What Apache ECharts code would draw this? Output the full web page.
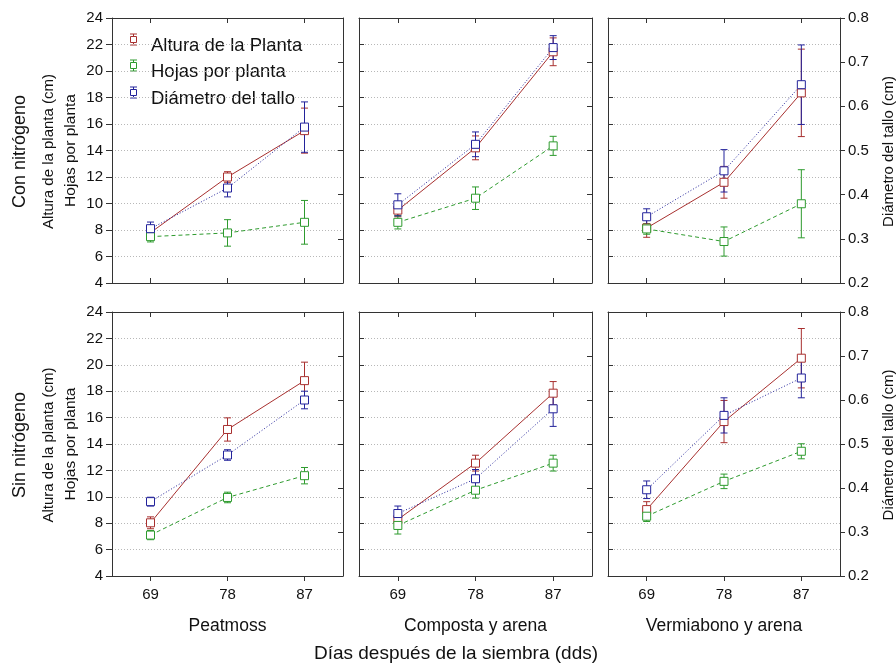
<!DOCTYPE html>
<html>
<head>
<meta charset="utf-8">
<script src="https://cdn.jsdelivr.net/npm/echarts@6/dist/echarts.min.js"></script>
<style>html,body{margin:0;padding:0;background:#fff}#c{width:896px;height:663px}</style>
</head>
<body>
<div id="c"></div>
<script>
// ---------------- DATA ----------------
const days = ['69', '78', '87'];
const sustratos = ['Peatmoss', 'Composta y arena', 'Vermiabono y arena'];
const filas = ['Con nitrógeno', 'Sin nitrógeno'];
const serieNombres = ['Altura de la Planta', 'Hojas por planta', 'Diámetro del tallo'];
const leftTicks = [4, 24, 2];      // min, max, interval (Altura / Hojas)
const rightTicks = [0.2, 0.8, 0.1]; // min, max, interval (Diámetro)

// Each array: [Peatmoss, Composta y arena, Vermiabono y arena], each with values at 69, 78, 87 dds
const alturaConN    = [[7.8, 12.0, 15.5], [9.5, 14.2, 21.45], [8.15, 11.6, 18.35]];
const alturaConNErr = [[0.5, 0.4, 1.7], [0.5, 0.9, 1.05], [0.7, 1.2, 3.3]];
const hojasConN     = [[7.5, 7.78, 8.58], [8.58, 10.4, 14.35], [8.08, 7.13, 9.98]];
const hojasConNErr  = [[0.4, 1.0, 1.65], [0.5, 0.85, 0.72], [0.4, 1.1, 2.57]];
const diamConN      = [[0.323, 0.415, 0.553], [0.377, 0.514, 0.733], [0.35, 0.454, 0.649]];
const diamConNErr   = [[0.015, 0.02, 0.057], [0.025, 0.028, 0.027], [0.018, 0.048, 0.09]];

const alturaSinN    = [[8.03, 15.1, 18.8], [8.28, 12.55, 17.85], [9.03, 15.7, 20.5]];
const alturaSinNErr = [[0.45, 0.88, 1.4], [0.35, 0.6, 0.88], [0.6, 1.6, 2.25]];
const hojasSinN     = [[7.1, 9.95, 11.6], [7.83, 10.5, 12.55], [8.53, 11.17, 13.45]];
const hojasSinNErr  = [[0.35, 0.4, 0.62], [0.65, 0.6, 0.6], [0.4, 0.55, 0.57]];
const diamSinN      = [[0.369, 0.475, 0.60], [0.342, 0.421, 0.58], [0.396, 0.565, 0.65]];
const diamSinNErr   = [[0.01, 0.012, 0.02], [0.017, 0.021, 0.04], [0.02, 0.04, 0.045]];

// ---------------- STYLE / LAYOUT ----------------
const FONT = "'Liberation Sans', Arial, Helvetica, sans-serif";
const TXT = '#111';
const AX = '#333';
const COLORS = ['#A8302F', '#2E9B2E', '#23239B'];
const DASH = ['solid', [4, 3], [1, 2]];
const colLeft = [112, 359, 608], colWidth = [231, 233, 232];
const rowTop = [18, 312], rowHeight = [265, 264];

const byRow = [
  [[alturaConN, alturaConNErr], [hojasConN, hojasConNErr], [diamConN, diamConNErr]],
  [[alturaSinN, alturaSinNErr], [hojasSinN, hojasSinNErr], [diamSinN, diamSinNErr]]
];

function errRender(color) {
  return function (params, api) {
    const x = api.value(0), y = api.value(1), e = api.value(2);
    const top = api.coord([x, y + e]);
    const bot = api.coord([x, y - e]);
    const w = 3.5;
    const style = { stroke: color, lineWidth: 1, fill: null };
    return {
      type: 'group',
      children: [
        { type: 'line', shape: { x1: top[0], y1: top[1], x2: bot[0], y2: bot[1] }, style },
        { type: 'line', shape: { x1: top[0] - w, y1: top[1], x2: top[0] + w, y2: top[1] }, style },
        { type: 'line', shape: { x1: bot[0] - w, y1: bot[1], x2: bot[0] + w, y2: bot[1] }, style }
      ]
    };
  };
}

const grids = [], xAxes = [], yAxes = [], series = [];
const axLine = { show: true, onZero: false, lineStyle: { color: AX, width: 1 } };
for (let r = 0; r < 2; r++) {
  for (let c = 0; c < 3; c++) {
    const g = r * 3 + c;
    grids.push({ left: colLeft[c], top: rowTop[r], width: colWidth[c], height: rowHeight[r], show: false });
    xAxes.push({
      type: 'category', gridIndex: g, data: days, position: 'bottom', boundaryGap: true,
      axisLine: axLine,
      axisTick: { show: true, alignWithLabel: true, inside: r === 0, length: 5, lineStyle: { color: AX } },
      axisLabel: { show: r === 1, fontSize: 15, fontFamily: FONT, color: TXT, margin: 11 },
      name: r === 1 ? sustratos[c] : '', nameLocation: 'middle', nameGap: 41,
      nameTextStyle: { fontSize: 17.5, fontFamily: FONT, color: TXT },
      splitLine: { show: false }
    });
    xAxes.push({
      type: 'category', gridIndex: g, data: days, position: 'top', boundaryGap: true,
      axisLine: axLine,
      axisTick: { show: true, alignWithLabel: true, inside: true, length: 5, lineStyle: { color: AX } },
      axisLabel: { show: false }, splitLine: { show: false }
    });
    yAxes.push({
      type: 'value', gridIndex: g, position: 'left',
      min: leftTicks[0], max: leftTicks[1], interval: leftTicks[2],
      axisLine: axLine,
      axisTick: { show: true, inside: c !== 0, length: c !== 0 ? 5 : 6, lineStyle: { color: AX } },
      axisLabel: { show: c === 0, fontSize: 15, fontFamily: FONT, color: TXT, margin: 9 },
      splitLine: { show: true, lineStyle: { type: [1, 2], color: '#b8b8b8', width: 1 } }
    });
    yAxes.push({
      type: 'value', gridIndex: g, position: 'right',
      min: rightTicks[0], max: rightTicks[1], interval: rightTicks[2],
      axisLine: axLine,
      axisTick: { show: true, inside: c !== 2, length: 5, lineStyle: { color: AX } },
      axisLabel: { show: c === 2, fontSize: 15, fontFamily: FONT, color: TXT, margin: 8,
        formatter: v => v.toFixed(1) },
      splitLine: { show: false }
    });

    for (let k = 0; k < 3; k++) {
      const vals = byRow[r][k][0][c];
      const errs = byRow[r][k][1][c];
      const yIdx = k === 2 ? 2 * g + 1 : 2 * g;
      series.push({
        type: 'custom', name: serieNombres[k], xAxisIndex: 2 * g, yAxisIndex: yIdx,
        renderItem: errRender(COLORS[k]),
        encode: { x: 0, y: 1 },
        data: vals.map((v, i) => [i, v, errs[i]]),
        z: 2, silent: true, animation: false
      });
      series.push({
        type: 'line', name: serieNombres[k], xAxisIndex: 2 * g, yAxisIndex: yIdx,
        data: vals,
        symbol: 'rect', symbolSize: 8,
        itemStyle: { color: '#fff', borderColor: COLORS[k], borderWidth: 1 },
        lineStyle: { color: COLORS[k], width: 1, type: DASH[k] },
        z: 3, silent: true, animation: false, emphasis: { disabled: true }
      });
    }
  }
}

function vtext(x, y, text, size) {
  return {
    type: 'text', x: x, y: y, rotation: Math.PI / 2, silent: true,
    style: { text: text, fontSize: size, fontFamily: FONT, fill: TXT,
      align: 'center', verticalAlign: 'middle', textAlign: 'center', textVerticalAlign: 'middle' }
  };
}
const graphics = [];
for (let r = 0; r < 2; r++) {
  const cy = rowTop[r] + rowHeight[r] / 2 + 1;
  graphics.push(vtext(20, cy, filas[r], 18));
  graphics.push(vtext(48.5, cy, 'Altura de la planta (cm)', 15));
  graphics.push(vtext(71, cy - 1, 'Hojas por planta', 15.5));
  graphics.push(vtext(888.5, cy, 'Diámetro del tallo (cm)', 15));
}
graphics.push({
  type: 'text', x: 456, y: 654, silent: true,
  style: { text: 'Días después de la siembra (dds)', fontSize: 19, fontFamily: FONT, fill: TXT,
    align: 'center', verticalAlign: 'middle', textAlign: 'center', textVerticalAlign: 'middle' }
});

// legend (icon = square with error bar, text beside it)
for (let k = 0; k < 3; k++) {
  const iy = Math.round(38.7 + 26.7 * k) + 0.5;
  const ix = 133.5;
  const st = { stroke: COLORS[k], lineWidth: 1, fill: null };
  graphics.push({
    type: 'group', silent: true,
    children: [
      { type: 'line', shape: { x1: ix, y1: iy - 5.5, x2: ix, y2: iy + 5.5 }, style: st },
      { type: 'line', shape: { x1: ix - 3.5, y1: iy - 5.5, x2: ix + 3.5, y2: iy - 5.5 }, style: st },
      { type: 'line', shape: { x1: ix - 3.5, y1: iy + 5.5, x2: ix + 3.5, y2: iy + 5.5 }, style: st },
      { type: 'rect', shape: { x: ix - 3, y: iy - 3, width: 6, height: 6 },
        style: { stroke: COLORS[k], lineWidth: 1, fill: '#fff' } },
      { type: 'text', x: 151, y: iy + 6.5,
        style: { text: serieNombres[k], fontSize: 18.5, fontFamily: FONT, fill: TXT,
          align: 'left', verticalAlign: 'middle', textAlign: 'left', textVerticalAlign: 'middle' } }
    ]
  });
}

const chart = echarts.init(document.getElementById('c'), null, { renderer: 'canvas' });
chart.setOption({
  backgroundColor: '#fff',
  animation: false,
  textStyle: { fontFamily: FONT },
  grid: grids,
  xAxis: xAxes,
  yAxis: yAxes,
  graphic: graphics,
  series: series
});
</script>
</body>
</html>
